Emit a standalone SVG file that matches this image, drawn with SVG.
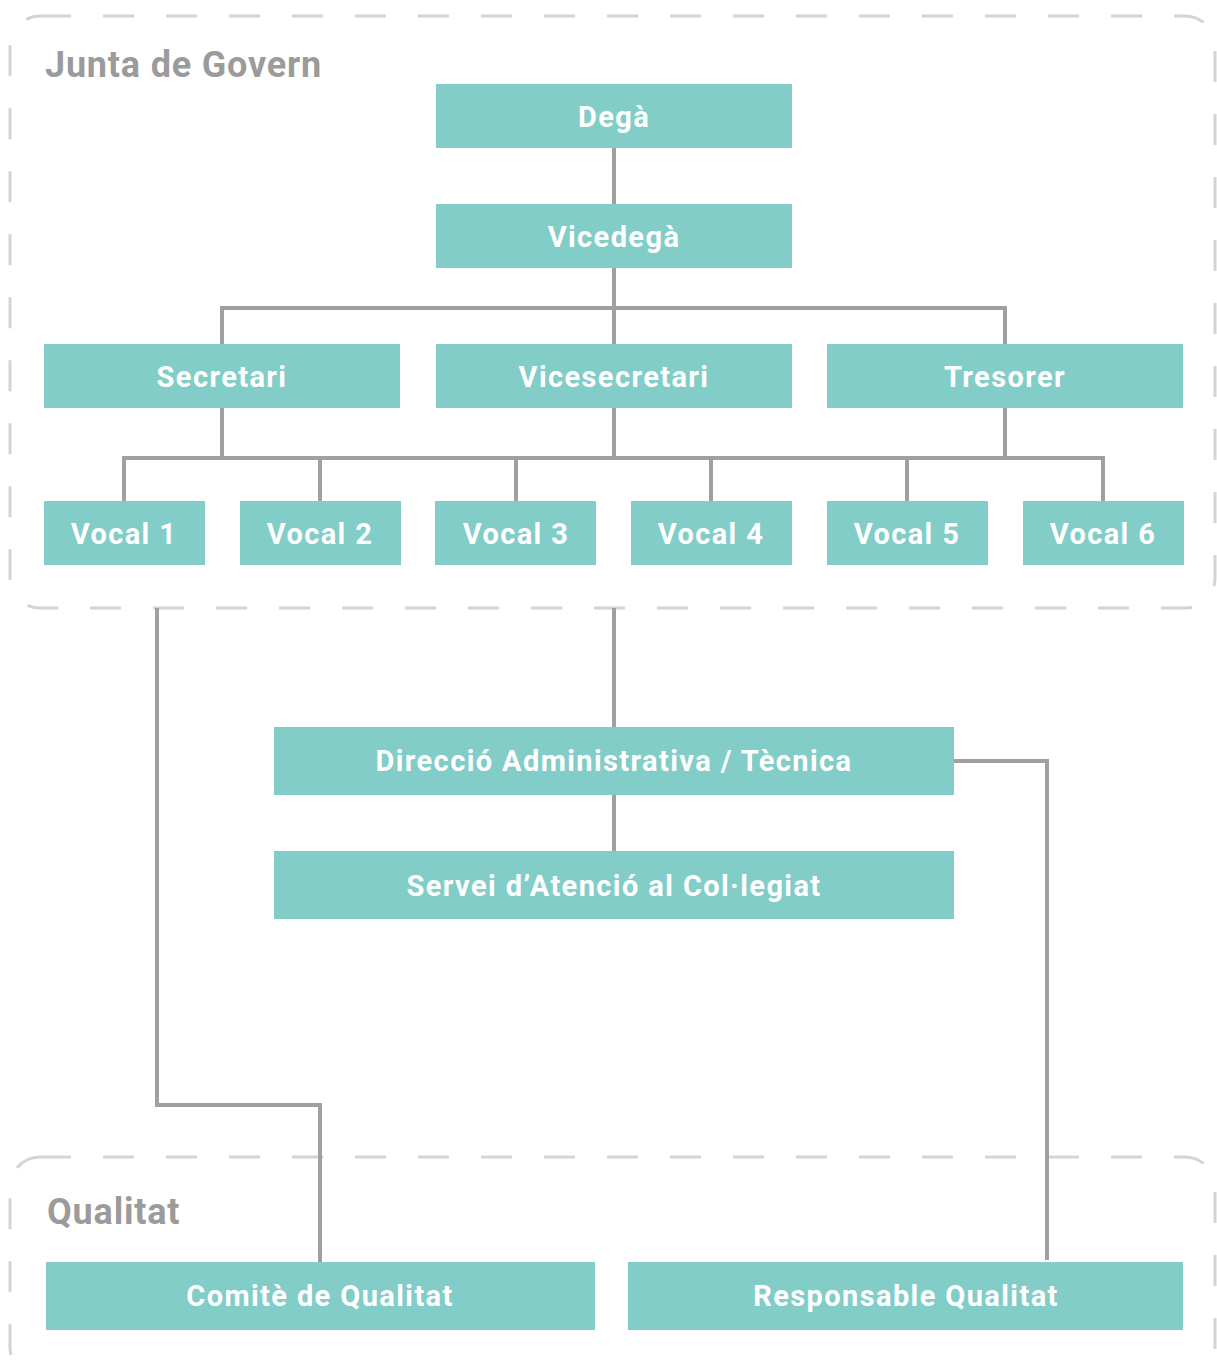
<svg xmlns="http://www.w3.org/2000/svg" width="1217" height="1365" viewBox="0 0 1217 1365">
<style>
.grp{fill:none;stroke:#d4d4d4;stroke-width:3;stroke-dasharray:31 32}
.gt{font-family:Roboto,"Liberation Sans",sans-serif;font-weight:bold;font-size:36px;fill:#9b9b9c;letter-spacing:0.8px}
.n rect{fill:#82cdc7}
.n text{font-family:Roboto,"Liberation Sans",sans-serif;font-weight:bold;font-size:29px;fill:#ffffff;text-anchor:middle;letter-spacing:1.4px}
.c{fill:none;stroke:#a0a0a1;stroke-width:4}
</style>
<rect width="1217" height="1365" fill="#ffffff"/>
<g id="group-junta">
<rect class="grp" x="10" y="16" width="1205" height="592" rx="30"/>
<text class="gt" x="45" y="77">Junta de Govern</text>
</g>
<g id="group-qualitat">
<rect class="grp" x="10" y="1157" width="1205" height="220" rx="30"/>
<text class="gt" x="47" y="1224">Qualitat</text>
</g>
<g id="connectors">
<path class="c" d="M614 148V204"/>
<path class="c" d="M614 268V344M222 344V308H1005V344"/>
<path class="c" d="M222 408V458M614 408V458M1005 408V458M124 501V458H1103V501M320 458V501M516 458V501M711 458V501M907 458V501"/>
<path class="c" d="M614 608V727"/>
<path class="c" d="M614 795V851"/>
<path class="c" d="M157 608V1105H320V1262"/>
<path class="c" d="M954 761H1047V1260"/>
</g>
<g id="dega" class="n"><rect x="436" y="84" width="356" height="64"/><text x="614" y="127">Degà</text></g>
<g id="vicedega" class="n"><rect x="436" y="204" width="356" height="64"/><text x="614" y="247">Vicedegà</text></g>
<g id="secretari" class="n"><rect x="44" y="344" width="356" height="64"/><text x="222" y="387">Secretari</text></g>
<g id="vicesecretari" class="n"><rect x="436" y="344" width="356" height="64"/><text x="614" y="387">Vicesecretari</text></g>
<g id="tresorer" class="n"><rect x="827" y="344" width="356" height="64"/><text x="1005" y="387">Tresorer</text></g>
<g id="vocal1" class="n"><rect x="44" y="501" width="161" height="64"/><text x="124" y="544">Vocal 1</text></g>
<g id="vocal2" class="n"><rect x="240" y="501" width="161" height="64"/><text x="320" y="544">Vocal 2</text></g>
<g id="vocal3" class="n"><rect x="435" y="501" width="161" height="64"/><text x="516" y="544">Vocal 3</text></g>
<g id="vocal4" class="n"><rect x="631" y="501" width="161" height="64"/><text x="711" y="544">Vocal 4</text></g>
<g id="vocal5" class="n"><rect x="827" y="501" width="161" height="64"/><text x="907" y="544">Vocal 5</text></g>
<g id="vocal6" class="n"><rect x="1023" y="501" width="161" height="64"/><text x="1103" y="544">Vocal 6</text></g>
<g id="direccio" class="n"><rect x="274" y="727" width="680" height="68"/><text x="614" y="771">Direcció Administrativa / Tècnica</text></g>
<g id="servei" class="n"><rect x="274" y="851" width="680" height="68"/><text x="614" y="896">Servei d’Atenció al Col·legiat</text></g>
<g id="comite" class="n"><rect x="46" y="1262" width="549" height="68"/><text x="320" y="1306">Comitè de Qualitat</text></g>
<g id="responsable" class="n"><rect x="628" y="1262" width="555" height="68"/><text x="906" y="1306">Responsable Qualitat</text></g>
</svg>
